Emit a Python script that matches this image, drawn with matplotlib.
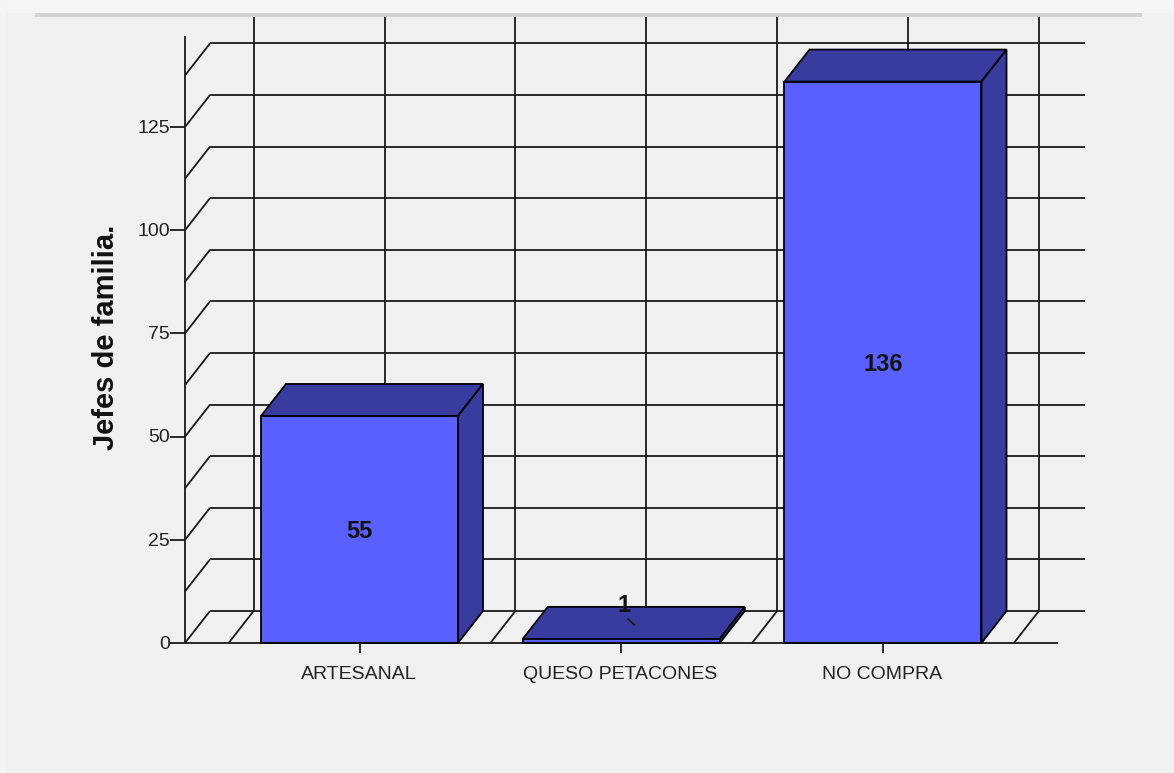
import matplotlib
matplotlib.use('Agg')
import matplotlib.pyplot as plt
from matplotlib.patches import Rectangle

plt.rcParams['font.family'] = ['Liberation Sans', 'DejaVu Sans']

categories = ['ARTESANAL', 'QUESO PETACONES', 'NO COMPRA']
values = [55, 1, 136]
y_ticks = [0, 25, 50, 75, 100, 125]
grid_levels = [0, 12.5, 25, 37.5, 50, 62.5, 75, 87.5, 100, 112.5, 125, 137.5]
y_label = 'Jefes de familia.'

W, H = 1174, 773
PX_X = 261.75   # pixels per category
PX_Y = 4.128    # pixels per count
X0, Y0 = 359.5, 643   # pixel of first category, value 0

DX = 25 / PX_X   # depth of the fake 3d
DY = 32 / PX_Y
BAR_W = 197 / PX_X

FRONT = '#5a60ff'
DARK = '#393c9f'
BG = '#f0f0f0'
LW = 1.3

fig = plt.figure(figsize=(W / 100, H / 100), dpi=100, facecolor=BG)
ax = fig.add_axes([0, 0, 1, 1])
ax.set_axis_off()
ax.set_xlim(-X0 / PX_X, (W - X0) / PX_X)
ax.set_ylim((Y0 - H) / PX_Y, Y0 / PX_Y)


def px_rect(x, y, w, h, color):
    fig.patches.append(Rectangle((x / W, 1 - (y + h) / H), w / W, h / H,
                                 transform=fig.transFigure, color=color, lw=0, zorder=0))


# window frame around the chart
px_rect(0, 0, W, 13, '#f5f5f5')
px_rect(0, 0, 6, H, '#f4f4f4')
px_rect(35, 13, 1107, 4, '#d2d2d2')

x_left = (185 - X0) / PX_X
x_right = (1058 - X0) / PX_X
line = dict(color='#1a1a1a', lw=LW, solid_capstyle='butt')

# walls: level lines on the back, slanted on the side wall
for lev in grid_levels:
    ax.plot([x_left, x_left + DX], [lev, lev + DY], **line, zorder=1)
    ax.plot([x_left + DX, x_right + DX + 2 / PX_X], [lev + DY, lev + DY], **line, zorder=1)

# vertical lines on the back wall and slants on the floor
for k in range(-1, 6):
    xv = k * 0.5 + DX
    ax.plot([xv, xv], [DY, 151.9], **line, zorder=1)
    ax.plot([xv - DX, xv], [0, DY], **line, zorder=1)

# axis lines and ticks
ax.plot([x_left, x_left], [0, 147], **line, zorder=2)
ax.plot([x_left, x_right], [0, 0], **line, zorder=2)
for t in y_ticks:
    ax.plot([x_left - 15 / PX_X, x_left], [t, t], **line, zorder=2)
    ax.text(x_left - 15 / PX_X, t - 0.3, str(t), ha='right', va='center',
            fontsize=14, color='#222222')
for i, c in enumerate(categories):
    ax.plot([i, i], [0, -10 / PX_Y], **line, zorder=2)
    ax.text(i - 1 / PX_X, -36 / PX_Y, c, ha='center', va='baseline', fontsize=14, color='#222222')

# bars
for i, v in enumerate(values):
    x0, x1 = i - BAR_W / 2, i + BAR_W / 2
    ax.fill([x0, x1, x1 + DX, x0 + DX], [v, v, v + DY, v + DY], facecolor=DARK,
            edgecolor='black', lw=LW, zorder=3)
    ax.fill([x1, x1 + DX, x1 + DX, x1], [0, DY, v + DY, v], facecolor=DARK,
            edgecolor='black', lw=LW, zorder=3)
ax.bar(range(len(values)), values, width=BAR_W, color=FRONT, edgecolor='black',
       linewidth=LW, zorder=4)

# value labels
for i, v in enumerate(values):
    if v < 5:
        ax.text(i + 3 / PX_X, v + 8.0, str(v), ha='center', va='center',
                fontsize=17, fontweight='bold', color='#111111', zorder=6)
        ax.plot([i + 7 / PX_X, i + 13 / PX_X], [v + 4.8, v + 3.4], color='#1a1a1a', lw=LW, zorder=6)
    else:
        ax.text(i + 0 / PX_X, v / 2 - 0.5, str(v), ha='center', va='center',
                fontsize=17, fontweight='bold', color='#111111', zorder=6)

ax.text((106 - X0) / PX_X, 74, y_label, rotation=90, ha='center', va='center',
        fontsize=21, fontweight='bold', color='#111111')

fig.savefig('out.png', dpi=100, facecolor=BG)
